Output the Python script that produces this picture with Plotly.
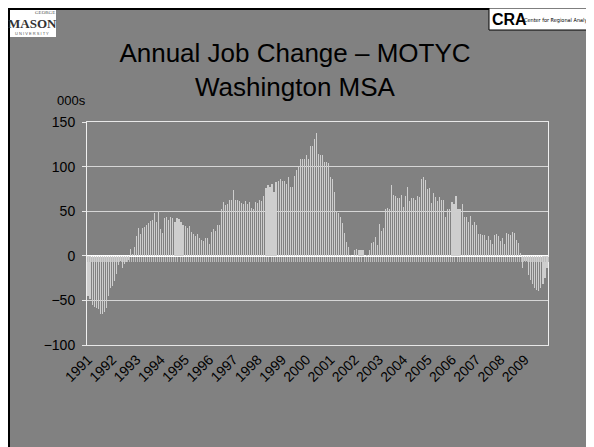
import plotly.graph_objects as go

# ---- data (thousands of jobs, change over the year, monthly) ----
years = list(range(1991, 2010))
categories = [f"{y}-{m:02d}" for y in years for m in range(1, 13)]

jobs_1991 = [-45, -48, -55, -57, -58, -60, -65, -65, -63, -58, -45, -36]
jobs_1992 = [-34, -28, -20, -10, -6, -14, -9, -7, -5, 8, 2, 10]
jobs_1993 = [22, 31, 24, 31, 32, 35, 37, 39, 40, 48, 38, 50]
jobs_1994 = [30, 26, 42, 43, 40, 43, 42, 38, 42, 41, 38, 35]
jobs_1995 = [33, 31, 33, 27, 24, 22, 24, 20, 18, 17, 20, 20]
jobs_1996 = [13, 27, 30, 28, 34, 35, 53, 60, 57, 58, 63, 63]
jobs_1997 = [74, 63, 63, 62, 59, 58, 61, 58, 60, 54, 53, 60]
jobs_1998 = [59, 63, 62, 67, 76, 79, 77, 80, 72, 83, 84, 86]
jobs_1999 = [84, 84, 81, 88, 77, 77, 90, 96, 100, 108, 108, 108]
jobs_2000 = [113, 109, 123, 123, 131, 138, 114, 113, 113, 105, 105, 104]
jobs_2001 = [88, 86, 72, 50, 48, 43, 37, 26, 16, 10, 1, 0]
jobs_2002 = [7, 8, 7, 7, 7, 0, 1, 7, 14, 15, 21, 12]
jobs_2003 = [36, 28, 31, 52, 54, 53, 79, 68, 67, 65, 65, 68]
jobs_2004 = [55, 67, 77, 62, 65, 65, 63, 67, 66, 86, 88, 85]
jobs_2005 = [75, 76, 59, 70, 66, 62, 66, 63, 63, 43, 52, 52]
jobs_2006 = [60, 58, 67, 52, 52, 58, 43, 43, 38, 45, 35, 38]
jobs_2007 = [34, 25, 25, 23, 23, 18, 22, 18, 13, 23, 25, 22]
jobs_2008 = [17, 20, 13, 26, 25, 23, 27, 26, 18, 14, 3, -14]
jobs_2009 = [-6, -6, -21, -27, -32, -36, -38, -40, -36, -32, -25, -14]

job_change = (jobs_1991 + jobs_1992 + jobs_1993 + jobs_1994 + jobs_1995 +
              jobs_1996 + jobs_1997 + jobs_1998 + jobs_1999 + jobs_2000 +
              jobs_2001 + jobs_2002 + jobs_2003 + jobs_2004 + jobs_2005 +
              jobs_2006 + jobs_2007 + jobs_2008 + jobs_2009)

year_tick_cats = [f"{y}-01" for y in years]
year_tick_text = [str(y) for y in years]
y_tick_vals = [-100, -50, 0, 50, 100, 150]

# ---- layout helpers ----
# The page body adds an 8px offset, so screen coords = figure coords + 8.
W, H = 594, 447
OFF = 8
S_LEFT, S_RIGHT, S_TOP, S_BOTTOM = 87, 548, 122, 345   # plot area on screen
L = S_LEFT - OFF
T = S_TOP - OFF
R = W - (S_RIGHT - OFF)
B = H - (S_BOTTOM - OFF)
PW, PH = S_RIGHT - S_LEFT, S_BOTTOM - S_TOP


def px(sx):
    return (sx - S_LEFT) / PW


def py(sy):
    return (S_BOTTOM - sy) / PH


FONT = "Arial, Liberation Sans, Helvetica, sans-serif"
BG = "#818181"

fig = go.Figure()
fig.add_trace(go.Bar(
    x=categories, y=job_change, width=0.55,
    marker=dict(color="rgba(206,206,206,0.99)", line=dict(width=0)),
    hoverinfo="x+y",
))
# helper (invisible) trace so the category-boundary tick axis at y=0 is drawn
fig.add_trace(go.Scatter(
    x=list(range(len(categories))), y=job_change, xaxis="x2", yaxis="y",
    mode="markers", marker=dict(opacity=0), hoverinfo="skip",
))

fig.update_layout(
    width=W, height=H,
    margin=dict(l=L, r=R, t=T, b=B, pad=0),
    paper_bgcolor=BG, plot_bgcolor=BG,
    showlegend=False,
    bargap=0,
    font=dict(family=FONT, color="#000000", size=14),
    title=dict(
        text="Annual Job Change – MOTYC<br>Washington MSA",
        x=(295 - OFF) / W, xref="container", xanchor="center",
        y=1 - (62 - OFF) / H, yref="container", yanchor="middle",
        font=dict(family=FONT, size=26, color="#000000"),
    ),
    xaxis=dict(
        type="category",
        range=[-0.5, len(categories) - 0.5],
        tickmode="array", tickvals=year_tick_cats, ticktext=year_tick_text,
        tickangle=-45, ticks="", showgrid=False, zeroline=False,
        showline=True, linecolor="#e8e8e8", linewidth=1, mirror=True,
        tickfont=dict(family=FONT, size=14, color="#000000"),
    ),
    xaxis2=dict(
        overlaying="x", anchor="free", position=0.4,
        type="linear", range=[-0.5, len(categories) - 0.5],
        tick0=-0.5, dtick=1, ticks="outside", ticklen=5,
        tickcolor="#bdbdbd", tickwidth=1,
        showticklabels=False, showgrid=False, zeroline=False, showline=False,
    ),
    yaxis=dict(
        range=[-100, 150], tickmode="array", tickvals=y_tick_vals,
        ticks="outside", ticklen=4, tickcolor="#e8e8e8",
        showgrid=True, gridcolor="#d6d6d6", gridwidth=1,
        zeroline=True, zerolinecolor="#ffffff", zerolinewidth=2,
        showline=True, linecolor="#f0f0f0", linewidth=1, mirror=True,
        tickfont=dict(family=FONT, size=14, color="#000000"),
        ticklabelstandoff=4,
    ),
)

# slide frame (black border)
fig.add_shape(type="rect", xref="paper", yref="paper",
              x0=px(OFF + 1), x1=px(W + OFF - 1), y0=py(H + OFF - 1), y1=py(OFF + 1),
              fillcolor="rgba(0,0,0,0)", line=dict(color="#000000", width=2), layer="above")

# units label
fig.add_annotation(text="000s", xref="paper", yref="paper",
                   x=px(55), y=py(101), xanchor="left", yanchor="middle",
                   showarrow=False, font=dict(family=FONT, size=13, color="#000000"))

# George Mason logo (left)
fig.add_shape(type="rect", xref="paper", yref="paper",
              x0=px(10), x1=px(56), y0=py(37), y1=py(10),
              fillcolor="#ffffff", line=dict(width=0), layer="above")
fig.add_annotation(text="GEORGE", xref="paper", yref="paper",
                   x=px(45), y=py(13), xanchor="center", yanchor="middle",
                   showarrow=False, borderpad=0,
                   font=dict(family="Liberation Serif, serif", size=5, color="#555555"))
fig.add_annotation(text="<b>MASON</b>", xref="paper", yref="paper",
                   x=px(32), y=py(23), xanchor="center", yanchor="middle",
                   showarrow=False, borderpad=0,
                   font=dict(family="Liberation Serif, serif", size=13, color="#333333"))
fig.add_annotation(text="U N I V E R S I T Y", xref="paper", yref="paper",
                   x=px(32), y=py(33.5), xanchor="center", yanchor="middle",
                   showarrow=False, borderpad=0,
                   font=dict(family="Liberation Sans, sans-serif", size=4, color="#555555"))

# CRA logo (right)
fig.add_shape(type="rect", xref="paper", yref="paper",
              x0=px(489), x1=px(604), y0=py(30), y1=py(8),
              fillcolor="#ffffff", line=dict(color="#000000", width=1), layer="above")
fig.add_annotation(text="<b>CRA</b>", xref="paper", yref="paper",
                   x=px(491), y=py(19), xanchor="left", yanchor="middle",
                   showarrow=False, borderpad=0,
                   font=dict(family=FONT, size=16, color="#000000"))
fig.add_annotation(text="Center for Regional Analysis", xref="paper", yref="paper",
                   x=px(523), y=py(20), xanchor="left", yanchor="middle",
                   showarrow=False, borderpad=0,
                   font=dict(family="Liberation Sans Narrow, DejaVu Sans Condensed, sans-serif",
                             size=5.5, color="#000000"))

fig.write_html("out.html")
